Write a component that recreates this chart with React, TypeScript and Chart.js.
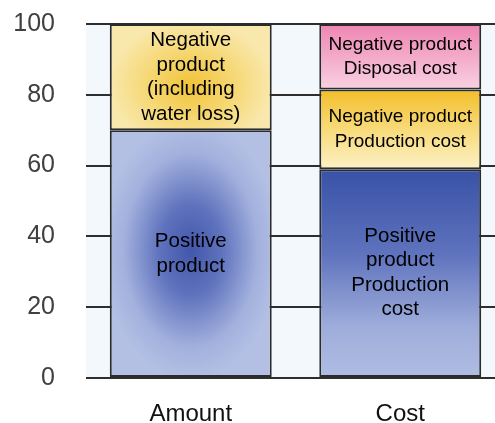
import React, { useEffect, useRef } from "react";
import { Chart, registerables } from "chart.js";

Chart.register(...registerables);

const categories = ["Amount", "Cost"];
const positiveValues = [70, 59];
const negativeValues = [30, 22.5];
const disposalValues = [0, 18.5];
const yTicks = [0, 20, 40, 60, 80, 100];

const positiveLabels = [["Positive", "product"], ["Positive", "product", "Production", "cost"]];
const negativeLabels = [["Negative", "product", "(including", "water loss)"], ["Negative product", "Production cost"]];
const disposalLabels = [[], ["Negative product", "Disposal cost"]];

const FONT = "'Liberation Sans', Arial, Helvetica, sans-serif";
const BAR_PCT = 0.773;

function segGeom(chart: any, datasetIndex: number, dataIndex: number) {
  const xs = chart.scales.x;
  const ys = chart.scales.y;
  if (!xs || !ys || !chart.chartArea) return null;
  let base = 0;
  for (let d = 0; d < datasetIndex; d++) base += chart.data.datasets[d].data[dataIndex] as number;
  const val = chart.data.datasets[datasetIndex].data[dataIndex] as number;
  const cx = xs.getPixelForValue(dataIndex);
  const cw = (xs.width / categories.length) * BAR_PCT;
  const y0 = ys.getPixelForValue(base);
  const y1 = ys.getPixelForValue(base + val);
  return { cx, cw, y0, y1 };
}

function ellipsePattern(chart: any, cx: number, cy: number, r: number, sy: number, stops: [number, string][]) {
  const off = document.createElement("canvas");
  off.width = Math.ceil(chart.width);
  off.height = Math.ceil(chart.height);
  const o = off.getContext("2d") as CanvasRenderingContext2D;
  o.fillStyle = stops[stops.length - 1][1];
  o.fillRect(0, 0, off.width, off.height);
  o.save();
  o.translate(cx, cy);
  o.scale(1, sy);
  const gr = o.createRadialGradient(0, 0, 0, 0, 0, r);
  stops.forEach(([p, c]) => gr.addColorStop(p, c));
  o.fillStyle = gr;
  o.fillRect(-r * 2, -r * 2, r * 4, r * 4);
  o.restore();
  return (chart.ctx as CanvasRenderingContext2D).createPattern(off, "no-repeat");
}

function makeFill(kind: string) {
  return (ctx: any) => {
    const chart = ctx.chart;
    const g = segGeom(chart, ctx.datasetIndex, ctx.dataIndex);
    const c = chart.ctx as CanvasRenderingContext2D;
    if (!g) return "#cccccc";
    const { cx, y0, y1, cw } = g;
    const midY = (y0 + y1) / 2;
    if (kind === "pos") {
      if (ctx.dataIndex === 0) {
        return ellipsePattern(chart, cx, midY - 4, cw * 0.55, 1.45, [
          [0, "#4257ab"],
          [0.35, "#5f72bd"],
          [0.75, "#a2b0dd"],
          [1, "#b3c0e4"],
        ]);
      }
      const gr = c.createLinearGradient(0, y1, 0, y0);
      gr.addColorStop(0, "#3852a6");
      gr.addColorStop(0.4, "#5e72bd");
      gr.addColorStop(0.75, "#9dacda");
      gr.addColorStop(1, "#b0bde3");
      return gr;
    }
    if (kind === "neg") {
      if (ctx.dataIndex === 0) {
        return ellipsePattern(chart, cx, midY + 8, cw * 0.5, 0.8, [
          [0, "#f1c33a"],
          [0.5, "#f5d670"],
          [1, "#f9e8ac"],
        ]);
      }
      const gr = c.createLinearGradient(0, y1, 0, y0);
      gr.addColorStop(0, "#f3bd28");
      gr.addColorStop(0.45, "#f7d872");
      gr.addColorStop(1, "#fcf1c6");
      return gr;
    }
    const gr = c.createLinearGradient(0, y1, 0, y0);
    gr.addColorStop(0, "#ee86b2");
    gr.addColorStop(0.5, "#f3aac9");
    gr.addColorStop(1, "#f9d2e3");
    return gr;
  };
}

const bgPlugin = {
  id: "bgArea",
  beforeDraw(chart: any) {
    const { ctx, chartArea } = chart;
    if (!chartArea) return;
    ctx.save();
    ctx.fillStyle = "#f2f8fc";
    ctx.fillRect(chartArea.left, chartArea.top, chartArea.right - chartArea.left, chartArea.bottom - chartArea.top);
    ctx.restore();
  },
};

const labelSets = [positiveLabels, negativeLabels, disposalLabels];

const textPlugin = {
  id: "segText",
  afterDatasetsDraw(chart: any) {
    const ctx = chart.ctx as CanvasRenderingContext2D;
    ctx.save();
    ctx.fillStyle = "#000000";
    ctx.textAlign = "center";
    ctx.textBaseline = "middle";
    chart.data.datasets.forEach((_ds: any, di: number) => {
      const meta = chart.getDatasetMeta(di);
      meta.data.forEach((el: any, i: number) => {
        const lines = labelSets[di][i] || [];
        if (!lines.length) return;
        const size = di > 0 && i === 1 ? 19 : 20.5;
        ctx.font = `${size}px ${FONT}`;
        const lh = 24.5;
        const mid = (el.y + el.base) / 2;
        const start = mid - ((lines.length - 1) * lh) / 2;
        lines.forEach((ln: string, k: number) => ctx.fillText(ln, el.x, start + k * lh));
      });
    });
    ctx.restore();
  },
};

export default function App() {
  const ref = useRef<HTMLCanvasElement | null>(null);
  useEffect(() => {
    document.body.style.margin = "0";
    if (!ref.current) return;
    const chart = new Chart(ref.current, {
      type: "bar",
      data: {
        labels: categories,
        datasets: [
          { label: "Positive", data: positiveValues, backgroundColor: makeFill("pos") as any },
          { label: "Negative", data: negativeValues, backgroundColor: makeFill("neg") as any },
          { label: "Disposal", data: disposalValues, backgroundColor: makeFill("dis") as any },
        ].map((d) => ({
          ...d,
          borderColor: "#2b2b2b",
          borderWidth: 2,
          borderSkipped: false,
          categoryPercentage: 1,
          barPercentage: BAR_PCT,
        })),
      },
      options: {
        animation: false,
        responsive: true,
        maintainAspectRatio: false,
        layout: { padding: { top: 24, right: 15, left: 0, bottom: 0 } },
        plugins: { legend: { display: false }, tooltip: { enabled: false } },
        scales: {
          x: {
            stacked: true,
            grid: { display: false },
            border: { display: false },
            ticks: { color: "#111111", font: { size: 24, family: FONT }, padding: 14 },
            afterFit: (s: any) => { s.height = 45; },
          },
          y: {
            stacked: true,
            min: 0,
            max: 100,
            afterBuildTicks: (s: any) => { s.ticks = yTicks.map((v) => ({ value: v })); },
            grid: { color: "#2e2e2e", lineWidth: 2, drawTicks: false },
            border: { display: false },
            ticks: { color: "#404040", font: { size: 25, family: FONT }, padding: 31 },
            afterFit: (s: any) => { s.width = 86; s.paddingTop = 0; s.paddingBottom = 0; },
          },
        },
      },
      plugins: [bgPlugin, textPlugin],
    });
    return () => chart.destroy();
  }, []);
  return (
    <div style={{ position: "fixed", left: 0, top: 0, width: 495, height: 423, overflow: "hidden", background: "#ffffff" }}>
      <div style={{ position: "relative", width: 520, height: 423 }}>
        <canvas ref={ref} />
      </div>
    </div>
  );
}
